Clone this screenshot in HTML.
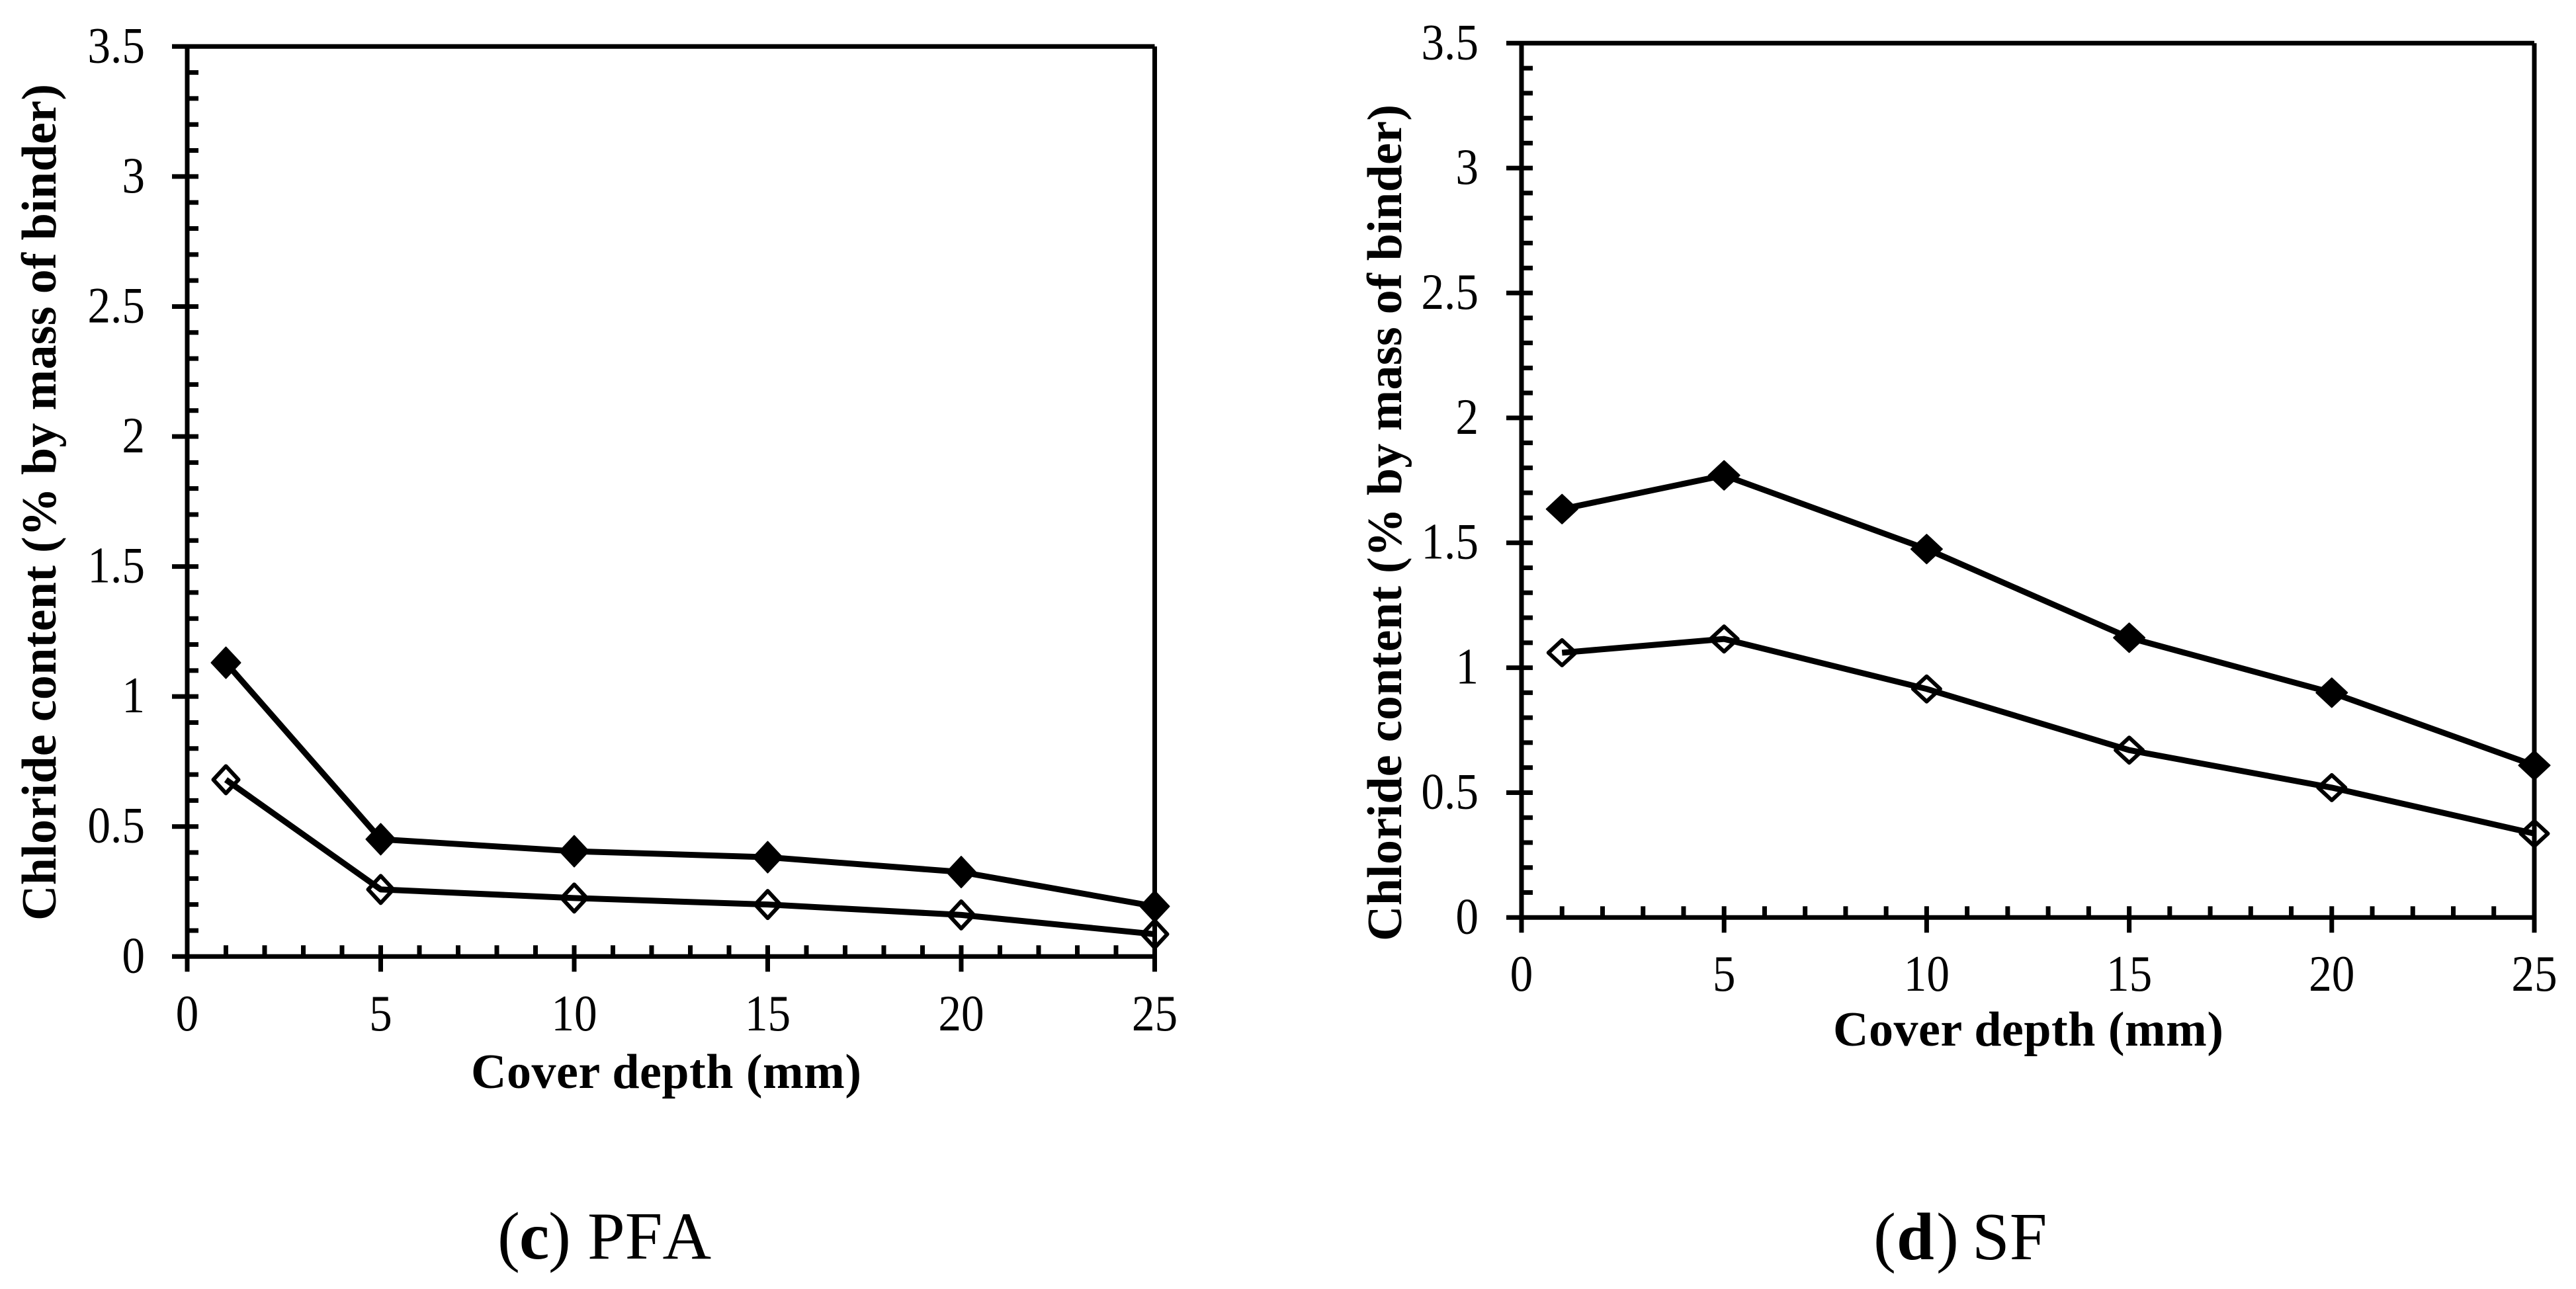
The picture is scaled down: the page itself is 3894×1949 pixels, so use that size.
<!DOCTYPE html>
<html lang="en">
<head>
<meta charset="utf-8">
<title>Chloride content vs cover depth</title>
<style>
html,body{margin:0;padding:0;background:#fff;}
svg{display:block;}
text{font-family:"Liberation Serif",serif;fill:#000;}
.title{font-weight:bold;font-size:74px;}
.cap{font-size:102px;font-kerning:none;}
.cap .b{font-weight:bold;}
</style>
</head>
<body>
<svg id="fig" xmlns="http://www.w3.org/2000/svg" width="3894" height="1949" viewBox="0 0 3894 1949">
<rect width="3894" height="1949" fill="#fff"/>
<text class="title" transform="translate(84,1392) rotate(-90)" textLength="1265" lengthAdjust="spacing">Chloride content (% by mass of binder)</text>
<text class="title" x="712" y="1645" textLength="590" lengthAdjust="spacing">Cover depth (mm)</text>
<text class="cap" y="1903"><tspan x="752">(</tspan><tspan class="b" x="785">c</tspan><tspan x="829">)</tspan><tspan x="888">PFA</tspan></text>
<text class="title" transform="translate(2118,1423) rotate(-90)" textLength="1265" lengthAdjust="spacing">Chloride content (% by mass of binder)</text>
<text class="title" x="2771" y="1581" textLength="590" lengthAdjust="spacing">Cover depth (mm)</text>
<text class="cap" y="1904"><tspan x="2832">(</tspan><tspan class="b" x="2867">d</tspan><tspan x="2927">)</tspan><tspan x="2981">SF</tspan></text>
</svg>
<script>
const xTickLabels = [0, 5, 10, 15, 20, 25];
const yTickLabels = [0, 0.5, 1, 1.5, 2, 2.5, 3, 3.5];
const depths = [1, 5, 10, 15, 20, 25];
const pfaFilled = [1.13, 0.451, 0.405, 0.382, 0.325, 0.193];
const pfaOpen = [0.68, 0.258, 0.225, 0.2, 0.16, 0.086];
const sfFilled = [1.635, 1.77, 1.475, 1.12, 0.9, 0.609];
const sfOpen = [1.06, 1.115, 0.915, 0.67, 0.52, 0.336];

const NS = 'http://www.w3.org/2000/svg';
const fig = document.getElementById('fig');

function mk(tag, attrs, parent) {
  const el = document.createElementNS(NS, tag);
  for (const k in attrs) el.setAttribute(k, attrs[k]);
  parent.appendChild(el);
  return el;
}

function drawChart(prefix, box, filled, open) {
  const g = mk('g', {}, fig);
  
  
  const xMax = xTickLabels[xTickLabels.length - 1];
  const yMax = yTickLabels[yTickLabels.length - 1];
  const sx = v => box.left + (box.right - box.left) * v / xMax;
  const sy = v => box.bottom - (box.bottom - box.top) * v / yMax;

  function axisLine(x1, y1, x2, y2, name) {
    const l = mk('line', {x1: x1, y1: y1, x2: x2, y2: y2, stroke: '#000', 'stroke-width': 7}, g);
    
    
  }

  axisLine(box.left - 23, box.top, box.right, box.top, prefix + '-top-border');
  axisLine(box.right, box.top, box.right, box.bottom + 23, prefix + '-right-border');
  axisLine(box.left, box.top, box.left, box.bottom + 23, prefix + '-y-axis');
  axisLine(box.left - 23, box.bottom, box.right, box.bottom, prefix + '-x-axis');

  for (let i = 1; i < xMax; i++) {
    axisLine(sx(i), box.bottom - 17, sx(i), i % 5 === 0 ? box.bottom + 23 : box.bottom, prefix + '-x-tick');
  }
  for (let i = 1; i < yMax * 10; i++) {
    const major = i % 5 === 0;
    axisLine(major ? box.left - 23 : box.left, sy(i / 10), box.left + 17, sy(i / 10), prefix + '-y-tick');
  }

  function label(x, y, text, anchor, name) {
    const t = mk('text', {transform: 'translate(' + x + ',' + y + ') scale(0.9,1)', 'font-size': 77, 'text-anchor': anchor}, g);
    t.textContent = text;
    
    
  }
  xTickLabels.forEach(v => label(sx(v), box.xLabelY, String(v), 'middle', prefix + '-x-tick-label'));
  yTickLabels.forEach(v => label(box.yLabelX, sy(v) + 24, String(v), 'end', prefix + '-y-tick-label'));

  function series(values, isFilled, name) {
    const pts = depths.map((d, i) => sx(d) + ',' + sy(values[i])).join(' ');
    const line = mk('polyline', {points: pts, fill: 'none', stroke: '#000', 'stroke-width': 9, 'stroke-linejoin': 'round'}, g);
    
    
    depths.forEach((d, i) => {
      const cx = sx(d), cy = sy(values[i]);
      const hw = isFilled ? box.mw : box.mw - 3, hh = isFilled ? box.mh : box.mh - 3;
      const m = mk('polygon', {
        points: [cx, cy - hh, cx + hw, cy, cx, cy + hh, cx - hw, cy].join(' '),
        fill: isFilled ? '#000' : 'none',
        stroke: '#000',
        'stroke-width': isFilled ? 2 : 6,
        'stroke-linejoin': 'round'
      }, g);
      
      
    });
  }
  series(filled, true, prefix + '-filled-series');
  series(open, false, prefix + '-open-series');
}

drawChart('pfa', {left: 283, right: 1745.5, top: 70.3, bottom: 1446.3, xLabelY: 1558, yLabelX: 219, mw: 22, mh: 23.5}, pfaFilled, pfaOpen);
drawChart('sf', {left: 2300, right: 3831, top: 65.3, bottom: 1387.3, xLabelY: 1498, yLabelX: 2235, mw: 23.5, mh: 22}, sfFilled, sfOpen);
</script>
</body>
</html>
